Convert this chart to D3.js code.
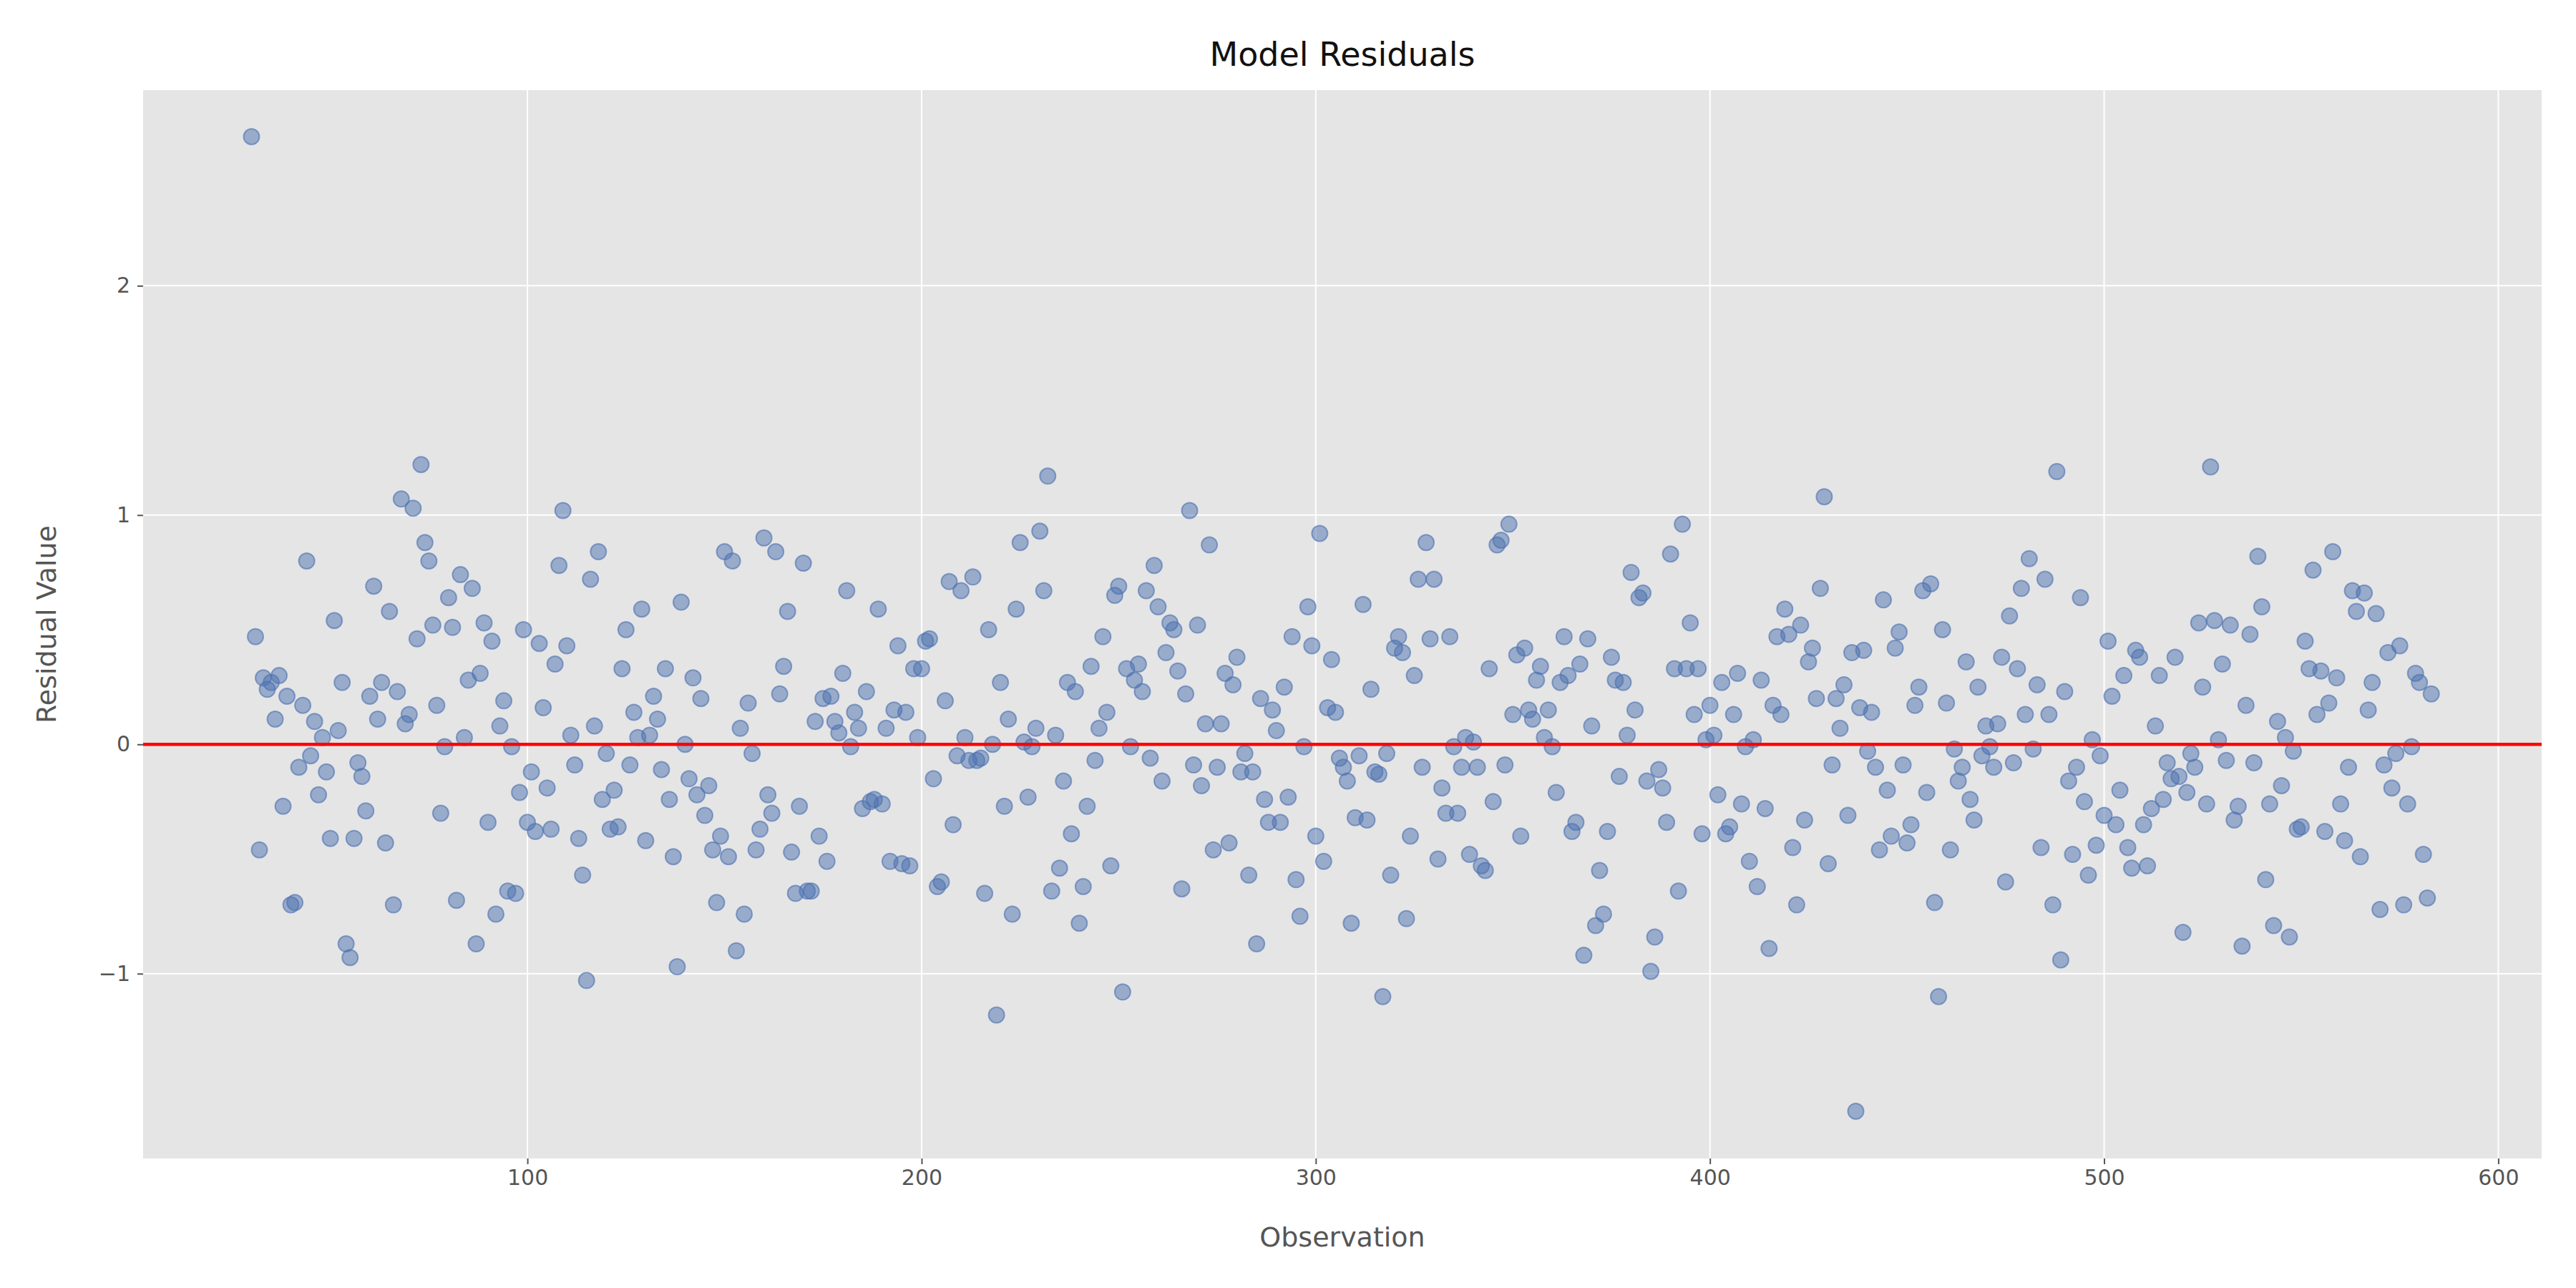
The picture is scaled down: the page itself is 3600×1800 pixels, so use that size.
<!DOCTYPE html>
<html>
<head>
<meta charset="utf-8">
<script src="https://cdn.jsdelivr.net/npm/d3@7"></script>
<style>
  body { margin: 0; background: #fff; }
  text { font-family: "DejaVu Sans", sans-serif; }
</style>
</head>
<body>
<svg id="chart" width="3600" height="1800"></svg>
<script>
// first observation index, values follow consecutively
const firstObs = 30;
const residuals = [
  2.65, 0.47, -0.46, 0.29, 0.24, 0.27, 0.11, 0.30, -0.27, 0.21,
  -0.70, -0.69, -0.10, 0.17, 0.80, -0.05, 0.10, -0.22, 0.03, -0.12,
  -0.41, 0.54, 0.06, 0.27, -0.87, -0.93, -0.41, -0.08, -0.14, -0.29,
  0.21, 0.69, 0.11, 0.27, -0.43, 0.58, -0.70, 0.23, 1.07, 0.09,
  0.13, 1.03, 0.46, 1.22, 0.88, 0.80, 0.52, 0.17, -0.30, -0.01,
  0.64, 0.51, -0.68, 0.74, 0.03, 0.28, 0.68, -0.87, 0.31, 0.53,
  -0.34, 0.45, -0.74, 0.08, 0.19, -0.64, -0.01, -0.65, -0.21, 0.50,
  -0.34, -0.12, -0.38, 0.44, 0.16, -0.19, -0.37, 0.35, 0.78, 1.02,
  0.43, 0.04, -0.09, -0.41, -0.57, -1.03, 0.72, 0.08, 0.84, -0.24,
  -0.04, -0.37, -0.20, -0.36, 0.33, 0.50, -0.09, 0.14, 0.03, 0.59,
  -0.42, 0.04, 0.21, 0.11, -0.11, 0.33, -0.24, -0.49, -0.97, 0.62,
  0.00, -0.15, 0.29, -0.22, 0.20, -0.31, -0.18, -0.46, -0.69, -0.40,
  0.84, -0.49, 0.80, -0.90, 0.07, -0.74, 0.18, -0.04, -0.46, -0.37,
  0.90, -0.22, -0.30, 0.84, 0.22, 0.34, 0.58, -0.47, -0.65, -0.27,
  0.79, -0.64, -0.64, 0.10, -0.40, 0.20, -0.51, 0.21, 0.10, 0.05,
  0.31, 0.67, -0.01, 0.14, 0.07, -0.28, 0.23, -0.25, -0.24, 0.59,
  -0.26, 0.07, -0.51, 0.15, 0.43, -0.52, 0.14, -0.53, 0.33, 0.03,
  0.33, 0.45, 0.46, -0.15, -0.62, -0.60, 0.19, 0.71, -0.35, -0.05,
  0.67, 0.03, -0.07, 0.73, -0.07, -0.06, -0.65, 0.50, 0.00, -1.18,
  0.27, -0.27, 0.11, -0.74, 0.59, 0.88, 0.01, -0.23, -0.01, 0.07,
  0.93, 0.67, 1.17, -0.64, 0.04, -0.54, -0.16, 0.27, -0.39, 0.23,
  -0.78, -0.62, -0.27, 0.34, -0.07, 0.07, 0.47, 0.14, -0.53, 0.65,
  0.69, -1.08, 0.33, -0.01, 0.28, 0.35, 0.23, 0.67, -0.06, 0.78,
  0.60, -0.16, 0.40, 0.53, 0.50, 0.32, -0.63, 0.22, 1.02, -0.09,
  0.52, -0.18, 0.09, 0.87, -0.46, -0.10, 0.09, 0.31, -0.43, 0.26,
  0.38, -0.12, -0.04, -0.57, -0.12, -0.87, 0.20, -0.24, -0.34, 0.15,
  0.06, -0.34, 0.25, -0.23, 0.47, -0.59, -0.75, -0.01, 0.60, 0.43,
  -0.40, 0.92, -0.51, 0.16, 0.37, 0.14, -0.06, -0.10, -0.16, -0.78,
  -0.32, -0.05, 0.61, -0.33, 0.24, -0.12, -0.13, -1.10, -0.04, -0.57,
  0.42, 0.47, 0.40, -0.76, -0.40, 0.30, 0.72, -0.10, 0.88, 0.46,
  0.72, -0.50, -0.19, -0.30, 0.47, -0.01, -0.30, -0.10, 0.03, -0.48,
  0.01, -0.10, -0.53, -0.55, 0.33, -0.25, 0.87, 0.89, -0.09, 0.96,
  0.13, 0.39, -0.40, 0.42, 0.15, 0.11, 0.28, 0.34, 0.03, 0.15,
  -0.01, -0.21, 0.27, 0.47, 0.30, -0.38, -0.34, 0.35, -0.92, 0.46,
  0.08, -0.79, -0.55, -0.74, -0.38, 0.38, 0.28, -0.14, 0.27, 0.04,
  0.75, 0.15, 0.64, 0.66, -0.16, -0.99, -0.84, -0.11, -0.19, -0.34,
  0.83, 0.33, -0.64, 0.96, 0.33, 0.53, 0.13, 0.33, -0.39, 0.02,
  0.17, 0.04, -0.22, 0.27, -0.39, -0.36, 0.13, 0.31, -0.26, -0.01,
  -0.51, 0.02, -0.62, 0.28, -0.28, -0.89, 0.17, 0.47, 0.13, 0.59,
  0.48, -0.45, -0.70, 0.52, -0.33, 0.36, 0.42, 0.20, 0.68, 1.08,
  -0.52, -0.09, 0.20, 0.07, 0.26, -0.31, 0.40, -1.60, 0.16, 0.41,
  -0.03, 0.14, -0.10, -0.46, 0.63, -0.20, -0.40, 0.42, 0.49, -0.09,
  -0.43, -0.35, 0.17, 0.25, 0.67, -0.21, 0.70, -0.69, -1.10, 0.50,
  0.18, -0.46, -0.02, -0.16, -0.10, 0.36, -0.24, -0.33, 0.25, -0.05,
  0.08, -0.01, -0.10, 0.09, 0.38, -0.60, 0.56, -0.08, 0.33, 0.68,
  0.13, 0.81, -0.02, 0.26, -0.45, 0.72, 0.13, -0.70, 1.19, -0.94,
  0.23, -0.16, -0.48, -0.10, 0.64, -0.25, -0.57, 0.02, -0.44, -0.05,
  -0.31, 0.45, 0.21, -0.35, -0.20, 0.30, -0.45, -0.54, 0.41, 0.38,
  -0.35, -0.53, -0.28, 0.08, 0.30, -0.24, -0.08, -0.15, 0.38, -0.14,
  -0.82, -0.21, -0.04, -0.10, 0.53, 0.25, -0.26, 1.21, 0.54, 0.02,
  0.35, -0.07, 0.52, -0.33, -0.27, -0.88, 0.17, 0.48, -0.08, 0.82,
  0.60, -0.59, -0.26, -0.79, 0.10, -0.18, 0.03, -0.84, -0.03, -0.37,
  -0.36, 0.45, 0.33, 0.76, 0.13, 0.32, -0.38, 0.18, 0.84, 0.29,
  -0.26, -0.42, -0.10, 0.67, 0.58, -0.49, 0.66, 0.15, 0.27, 0.57,
  -0.72, -0.09, 0.40, -0.19, -0.04, 0.43, -0.70, -0.26, -0.01, 0.31,
  0.27, -0.48, -0.67, 0.22
];
const xTicks = [100, 200, 300, 400, 500, 600];
const yTicks = [-1, 0, 1, 2];

const svg = d3.select('#chart');
const mLeft = 200, mRight = 3552, mTop = 126, mBottom = 1619;

const x = d3.scaleLinear().domain([2.5, 611]).range([mLeft, mRight]);
const y = d3.scaleLinear().domain([-1.806, 2.853]).range([mBottom, mTop]);

svg.append('rect')
  .attr('x', mLeft).attr('y', mTop)
  .attr('width', mRight - mLeft).attr('height', mBottom - mTop)
  .attr('fill', '#E5E5E5');

// grid
svg.append('g').selectAll('line').data(xTicks).enter().append('line')
  .attr('x1', d => x(d)).attr('x2', d => x(d))
  .attr('y1', mTop).attr('y2', mBottom)
  .attr('stroke', '#fff').attr('stroke-width', 2);
svg.append('g').selectAll('line').data(yTicks).enter().append('line')
  .attr('y1', d => y(d)).attr('y2', d => y(d))
  .attr('x1', mLeft).attr('x2', mRight)
  .attr('stroke', '#fff').attr('stroke-width', 2);

// axes
const xAxis = svg.append('g')
  .attr('transform', `translate(0,${mBottom})`)
  .call(d3.axisBottom(x).tickValues(xTicks).tickSize(8).tickPadding(8));
const yAxis = svg.append('g')
  .attr('transform', `translate(${mLeft},0)`)
  .call(d3.axisLeft(y).tickValues(yTicks).tickSize(8).tickPadding(10)
    .tickFormat(d => d < 0 ? '\u2212' + Math.abs(d) : d));
[xAxis, yAxis].forEach(a => {
  a.select('.domain').remove();
  a.selectAll('line').attr('stroke', '#555').attr('stroke-width', 2);
  a.selectAll('text').attr('fill', '#555').style('font-size', '30px')
    .style('font-family', '"DejaVu Sans", sans-serif');
});

// points
svg.append('g').selectAll('circle')
  .data(residuals).enter().append('circle')
  .attr('cx', (d, i) => x(firstObs + i))
  .attr('cy', d => y(d))
  .attr('r', 11)
  .attr('fill', '#4C72B0').attr('fill-opacity', 0.5)
  .attr('stroke', '#4C72B0').attr('stroke-opacity', 0.6).attr('stroke-width', 2);

// zero line
svg.append('line')
  .attr('x1', mLeft).attr('x2', mRight)
  .attr('y1', y(0)).attr('y2', y(0))
  .attr('stroke', '#FF0000').attr('stroke-width', 4.5);

svg.append('text')
  .attr('x', (mLeft + mRight) / 2).attr('y', 92)
  .attr('text-anchor', 'middle')
  .style('font-size', '46px').attr('fill', '#111')
  .text('Model Residuals');
svg.append('text')
  .attr('x', (mLeft + mRight) / 2).attr('y', 1742)
  .attr('text-anchor', 'middle')
  .style('font-size', '38px').attr('fill', '#555')
  .text('Observation');
svg.append('text')
  .attr('transform', `translate(78,${(mTop + mBottom) / 2}) rotate(-90)`)
  .attr('text-anchor', 'middle')
  .style('font-size', '38px').attr('fill', '#555')
  .text('Residual Value');
</script>
</body>
</html>
